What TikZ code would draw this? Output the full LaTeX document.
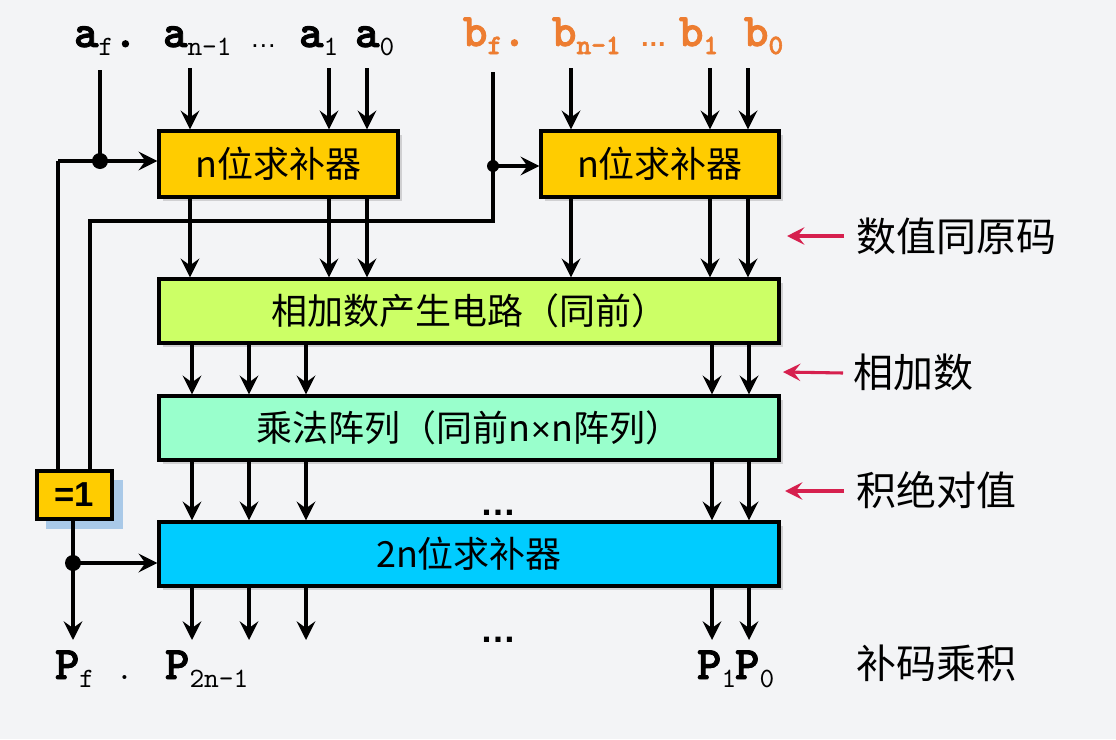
\documentclass[tikz,border=0pt]{standalone}
\usepackage{fontspec}
\setmainfont{Noto Sans CJK SC}
\newfontfamily\arl{Liberation Sans}
\newfontfamily\cbf[FakeBold=2]{lmmonolt10-bold.otf}
\newfontfamily\crg{lmmono10-regular.otf}
\usetikzlibrary{arrows.meta,shadows}
\definecolor{bg}{HTML}{F3F4F6}
\definecolor{yel}{HTML}{FFCC00}
\definecolor{lime}{HTML}{CCFF66}
\definecolor{mint}{HTML}{99FFCC}
\definecolor{sky}{HTML}{00CCFF}
\definecolor{crim}{HTML}{D6204E}
\definecolor{org}{HTML}{ED7D31}
\definecolor{shblue}{HTML}{A9C9E8}
\newcommand{\labA}[2]{{\cbf\fontsize{35}{35}\selectfont #1}{\crg\fontsize{21}{21}\selectfont\raisebox{-6pt}{#2}}}
\newcommand{\labB}[2]{{\cbf\fontsize{35}{35}\selectfont #1}{\cbf\fontsize{21}{21}\selectfont\raisebox{-6pt}{#2}}}
\tikzset{
  box/.style={draw=black, line width=2.5pt, inner sep=0pt,
    drop shadow={shadow xshift=3pt, shadow yshift=-3pt, opacity=0.3},
    font=\fontsize{27}{27}\selectfont},
  ln/.style={line width=2.5pt},
  arr/.style={line width=2.5pt, -{Stealth[length=14pt,width=14pt,inset=5pt]}},
  redarr/.style={line width=2.3pt, draw=crim, -{Stealth[length=13pt,width=13pt,inset=5pt]}},
  lbl/.style={anchor=base west, inner sep=0pt, outer sep=0pt},
  side/.style={anchor=west, inner sep=0pt, font=\fontsize{30}{30}\selectfont},
  dotn/.style={circle, fill=black, inner sep=0pt, minimum size=#1},
}
\begin{document}
\begin{tikzpicture}[x=0.75pt, y=-0.75pt]
\fill[bg] (0,0) rectangle (1116,739);
\useasboundingbox (0,0) rectangle (1116,739);

% boxes
\node[box, fill=yel, minimum width=179.25pt, minimum height=49.5pt] (c1) at (278.5,164) {n位求补器};
\node[box, fill=yel, minimum width=178.5pt, minimum height=49.5pt] (c2) at (660,164) {n位求补器};
\node[box, fill=lime, minimum width=465pt, minimum height=48pt] (g) at (469,311) {相加数产生电路（同前）};
\node[box, fill=mint, minimum width=465pt, minimum height=48pt] (m) at (469,428) {乘法阵列（同前n{\arl\fontsize{26}{26}\selectfont ×}n阵列）};
\node[box, fill=sky, minimum width=465pt, minimum height=48pt] (c3) at (469,554) {2n位求补器};
\fill[shblue] (46,480) rectangle (123,529);
\node[draw=black, line width=2.5pt, fill=yel, minimum width=56.25pt, minimum height=36pt, inner sep=0pt,
  font=\arl\bfseries\fontsize{26}{26}\selectfont] (x) at (74.5,495) {=1};

% input labels
\node[lbl] (af) at (74,47) {\labA{a}{f}{\cbf\fontsize{35}{35}\selectfont.}};
\node[lbl] (an) at (163,47) {\labA{a}{n–1}};
\node[lbl, font=\arl\fontsize{20}{20}\selectfont] (ad) at (250,47) {…};
\node[lbl] (a1) at (299,47) {\labA{a}{1}};
\node[lbl] (a0) at (355,47) {\labA{a}{0}};
\begin{scope}[color=org]
\node[lbl] (bf) at (463,46) {\labB{b}{f}{\cbf\fontsize{35}{35}\selectfont.}};
\node[lbl] (bn) at (552,46) {\labB{b}{n–1}};
\node[lbl, font=\arl\bfseries\fontsize{20}{20}\selectfont] (bd) at (640,46) {…};
\node[lbl] (b1) at (679,46) {\labB{b}{1}};
\node[lbl] (b0) at (744,46) {\labB{b}{0}};
\end{scope}

% output labels
\node[lbl] (pf) at (55,679) {\labA{P}{f}};
\node[lbl, font=\crg\fontsize{24}{24}\selectfont] (pdot) at (116,679) {.};
\node[lbl] (pn) at (165,679) {\labA{P}{2n–1}};
\node[lbl] (p1) at (697,679) {\labA{P}{1}};
\node[lbl] (p0) at (735,679) {\labA{P}{0}};

% ellipses
\node[lbl, font=\arl\bfseries\fontsize{27}{27}\selectfont] (e1) at (480,515) {…};
\node[lbl, font=\arl\bfseries\fontsize{27}{27}\selectfont] (e2) at (480,642) {…};

% side labels
\node[side] (s1) at (856,236) {数值同原码};
\node[side] (s2) at (853,372) {相加数};
\node[side] (s3) at (856,490) {积绝对值};
\node[side] (s4) at (856,663) {补码乘积};
\coordinate (r1) at (787,236);
\coordinate (r2) at (783,372);
\coordinate (r3) at (785,491);
\draw[redarr] (s1.west) ++(-12,0) -- (r1);
\draw[redarr] (s2.west) ++(-10,1) -- (r2);
\draw[redarr] (s3.west) ++(-12,1) -- (r3);

% top inputs
\coordinate (tan) at (190,68);
\coordinate (ta1) at (329,68);
\coordinate (ta0) at (367,68);
\coordinate (tbn) at (571,68);
\coordinate (tb1) at (710,68);
\coordinate (tb0) at (748,68);
\foreach \t/\b in {tan/c1,ta1/c1,ta0/c1,tbn/c2,tb1/c2,tb0/c2}{
  \draw[arr] (\t) -- (\t |- \b.north);
  \draw[arr] (\t |- \b.south) -- (\t |- g.north);
}

% sign paths
\coordinate (taf) at (100,70);
\node[dotn=12pt] (d1) at (100,161) {};
\coordinate (l1) at (58,161);
\draw[ln] (taf) -- (d1.center);
\draw[arr] (l1) -- (c1.west |- d1);
\draw[ln] (l1) -- (l1 |- x.north);

\coordinate (tbf) at (493,72);
\node[dotn=9pt] (d2) at (493,166) {};
\coordinate (k1) at (493,221);
\coordinate (k2) at (90,221);
\draw[ln] (tbf) -- (k1) -- (k2) -- (k2 |- x.north);
\draw[arr] (d2.center) -- (c2.west |- d2);

\node[dotn=12pt] (d3) at (73,563) {};
\coordinate (pfe) at (73,640);
\draw[ln] (x.south -| d3) -- (d3.center);
\draw[arr] (d3.center) -- (c3.west |- d3);
\draw[arr] (d3.center) -- (pfe);

% column arrows
\foreach \xx in {192,249,306,712,749}{
  \coordinate (col) at (\xx,0);
  \draw[arr] (col |- g.south) -- (col |- m.north);
  \draw[arr] (col |- m.south) -- (col |- c3.north);
  \draw[arr] (col |- c3.south) -- (\xx,640);
}
\end{tikzpicture}
\end{document}
